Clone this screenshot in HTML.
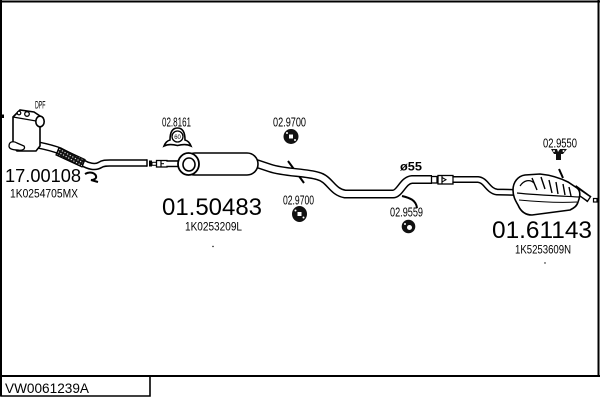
<!DOCTYPE html>
<html><head><meta charset="utf-8">
<style>
html,body{margin:0;padding:0;background:#fff;}
svg{display:block;}
text{font-family:"Liberation Sans",Arial,sans-serif;fill:#000;}
</style></head><body>
<svg width="600" height="400" viewBox="0 0 600 400" xmlns="http://www.w3.org/2000/svg">
<defs>
<pattern id="hatch" width="3" height="3" patternUnits="userSpaceOnUse" patternTransform="rotate(30)">
<rect width="3" height="3" fill="#111"/>
<rect x="0" y="0" width="1.1" height="1.1" fill="#fff"/>
</pattern>
</defs>

<!-- frame -->
<path d="M1,0 V396 M0,1.5 H600 M598.5,0 V377 M0,376 H600" stroke="#000" stroke-width="2" fill="none"/>
<path d="M1,376 V396 H150 V376" stroke="#000" stroke-width="1.6" fill="none"/>
<text x="5" y="393" font-size="14" textLength="84" lengthAdjust="spacingAndGlyphs">VW0061239A</text>

<!-- hanger rods (drawn under pipes) -->
<line x1="288" y1="161" x2="304" y2="183" stroke="#000" stroke-width="2"/>
<path d="M402,196 C410,198 416,200 417,208" stroke="#000" stroke-width="2" fill="none"/>
<line x1="559" y1="169" x2="563" y2="178" stroke="#000" stroke-width="2"/>

<!-- front pipe -->
<g fill="none">
<path d="M38,145 C48,147 55,149 60,151 L83,163 C88,166 95,168 100,165 C103,163 106,163 110,163 L147,163" stroke="#000" stroke-width="7.5"/>
<path d="M38,145 C48,147 55,149 60,151 L83,163 C88,166 95,168 100,165 C103,163 106,163 110,163 L147,163" stroke="#fff" stroke-width="4.5"/>
</g>
<line x1="147" y1="159.3" x2="147" y2="166.7" stroke="#000" stroke-width="1.5"/>
<!-- flex -->
<polygon points="59,147.5 85,159.5 82,167 56,155" fill="url(#hatch)" stroke="#000" stroke-width="1.2"/>

<!-- DPF -->
<path d="M13,117 L20,110 L34,112 L43,118 L40,122 L40,146 L36,151 L17,151 L13,147 Z" fill="#fff" stroke="#000" stroke-width="1.6"/>
<path d="M13,117 L36,121 L43,118" fill="none" stroke="#000" stroke-width="1.3"/>
<ellipse cx="40" cy="121.5" rx="4.2" ry="5.3" fill="#fff" stroke="#000" stroke-width="1.6"/>
<circle cx="27" cy="114" r="2.3" fill="#fff" stroke="#000" stroke-width="1.3"/>
<circle cx="19" cy="113" r="1.8" fill="#fff" stroke="#000" stroke-width="1.2"/>
<path d="M9,146 C9,141 14,141 17,143 L24,146 C26,149 22,151 18,150 C13,150 9,149 9,146 Z" fill="#fff" stroke="#000" stroke-width="1.3"/>
<rect x="1" y="114.5" width="3" height="3.5" fill="#000"/>
<text x="35" y="108.5" font-size="11" textLength="10.5" lengthAdjust="spacingAndGlyphs">DPF</text>

<!-- hook near 17.00108 -->
<path d="M85,174 C90,171 95,173 96,176 C97,179 93,180 91,180 L98,182" stroke="#000" stroke-width="2" fill="none"/>

<text x="5" y="182" font-size="18" textLength="76" lengthAdjust="spacingAndGlyphs">17.00108</text>
<text x="10" y="197.5" font-size="12" textLength="68" lengthAdjust="spacingAndGlyphs">1K0254705MX</text>

<!-- connector -->
<rect x="149" y="160.5" width="3" height="6" fill="#000"/>
<rect x="152" y="162.3" width="4.5" height="3" fill="#fff" stroke="#000" stroke-width="1"/>
<rect x="156.5" y="160.5" width="10.5" height="6.5" fill="#fff" stroke="#000" stroke-width="1.3"/>
<line x1="161" y1="161" x2="161" y2="166.5" stroke="#000" stroke-width="1.2"/>
<line x1="161" y1="163.7" x2="164" y2="163.7" stroke="#000" stroke-width="1"/>
<g fill="none">
<path d="M167,163.7 L182,163.7" stroke="#000" stroke-width="7"/>
<path d="M166,163.7 L183,163.7" stroke="#fff" stroke-width="4"/>
</g>

<!-- middle pipe -->
<g fill="none">
<path d="M255,163 L270,168 C285,173 305,172 318,176 C330,179 332,192 345,194 L393,194 C400,194 403,180 412,179.5 L432,179.5" stroke="#000" stroke-width="9"/>
<path d="M255,163 L270,168 C285,173 305,172 318,176 C330,179 332,192 345,194 L393,194 C400,194 403,180 412,179.5 L432,179.5" stroke="#fff" stroke-width="6"/>
</g>

<!-- middle muffler -->
<rect x="184" y="153" width="74" height="22" rx="11" fill="#fff" stroke="#000" stroke-width="1.6"/>
<ellipse cx="188.5" cy="164" rx="10.5" ry="11" fill="#fff" stroke="#000" stroke-width="1.8"/>
<ellipse cx="189" cy="164.5" rx="6" ry="6.5" fill="#fff" stroke="#000" stroke-width="1.6"/>

<!-- joint -->
<rect x="431.5" y="176.5" width="5.5" height="6.5" fill="#fff" stroke="#000" stroke-width="1.3"/>
<rect x="438" y="175.5" width="15" height="8.5" fill="#fff" stroke="#000" stroke-width="1.3"/>
<line x1="442" y1="176" x2="442" y2="183.5" stroke="#000" stroke-width="1.2"/>
<path d="M442,177.5 L446,179.7 L442,182" stroke="#000" stroke-width="1" fill="none"/>

<!-- rear pipe -->
<g fill="none">
<path d="M453,179.5 L478,179.5 C486,180 488,191 497,192 L520,192.5" stroke="#000" stroke-width="7"/>
<path d="M452,179.5 L478,179.5 C486,180 488,191 497,192 L520,192.5" stroke="#fff" stroke-width="4"/>
</g>
<line x1="453" y1="176" x2="453" y2="183" stroke="#000" stroke-width="1.2"/>

<!-- tailpipe -->
<g fill="none">
<path d="M574,188 L589,199" stroke="#000" stroke-width="7"/>
<path d="M573,188 L589,199" stroke="#fff" stroke-width="4"/>
</g>
<line x1="587" y1="202" x2="591" y2="196" stroke="#000" stroke-width="1.3"/>
<rect x="593.5" y="198.5" width="3.5" height="3.5" fill="#fff" stroke="#000" stroke-width="1.2"/>

<!-- rear muffler -->
<path d="M513,190 C513,182 518,176 525,175 L540,174 C550,175 560,178 568,182 L577,188 C581,191 580,197 578,202 C577,206 574,208 570,210 L532,215 C526,215 521,212 518,205 C515,200 513,196 513,190 Z" fill="#fff" stroke="#000" stroke-width="1.6"/>
<path d="M517,193 C535,195 560,196 579,197" fill="none" stroke="#000" stroke-width="1.2"/>
<path d="M519,200 C540,202 560,203 577,202" fill="none" stroke="#000" stroke-width="1"/>
<path d="M520,186 C524,180 530,179 534,183" fill="none" stroke="#000" stroke-width="1.2"/>
<g stroke="#000" stroke-width="1.4" fill="none">
<path d="M532,178 L537,190"/>
<path d="M541,177 L545,189"/>
<path d="M549,180 L552,193"/>
<path d="M556,182 L558,194"/>
<path d="M563,184 L565,195"/>
<path d="M569,187 L571,196"/>
</g>

<!-- icons -->
<!-- clamp 02.8161 -->
<path d="M164,146 Q166,141 170,140 Q170,128 177.5,128 Q185,128 185,140 Q189,141 191,146 Q186,143.5 177.5,145.5 Q169,143.5 164,146 Z" fill="#fff" stroke="#000" stroke-width="1.6"/>
<circle cx="177.5" cy="136.5" r="5.5" fill="#fff" stroke="#000" stroke-width="1.3"/>
<text x="174.2" y="138.8" font-size="6" textLength="6.6" lengthAdjust="spacingAndGlyphs">60</text>
<text x="162" y="126.5" font-size="12.5" textLength="29" lengthAdjust="spacingAndGlyphs">02.8161</text>

<!-- rubber rings 02.9700 -->
<ellipse cx="291" cy="136.5" rx="7.5" ry="7.5" fill="#111"/>
<rect x="289" y="134.5" width="4" height="4" fill="#fff"/>
<circle cx="287" cy="133" r="1" fill="#fff"/>
<circle cx="295" cy="140" r="1" fill="#fff"/>
<text x="273" y="126.5" font-size="12.5" textLength="33" lengthAdjust="spacingAndGlyphs">02.9700</text>

<ellipse cx="299.5" cy="214" rx="7.5" ry="8" fill="#111"/>
<rect x="297.5" y="212" width="4" height="4" fill="#fff"/>
<circle cx="295.5" cy="210.5" r="1" fill="#fff"/>
<circle cx="303.5" cy="217.5" r="1" fill="#fff"/>
<text x="283" y="204.5" font-size="12.5" textLength="31" lengthAdjust="spacingAndGlyphs">02.9700</text>

<!-- 02.9559 ring -->
<circle cx="408.5" cy="226.5" r="6.8" fill="#111"/>
<circle cx="409.5" cy="227.5" r="2.5" fill="#fff"/>
<circle cx="405" cy="224" r="1" fill="#fff"/>
<text x="390" y="216.5" font-size="12.5" textLength="33" lengthAdjust="spacingAndGlyphs">02.9559</text>

<!-- 02.9550 hanger -->
<path d="M551,149 L557,149 L558,152 L560,149 L567,149 L563,154 L561,154 L561,160 L556,160 L556,154 L554,154 Z" fill="#111"/>
<circle cx="554" cy="151" r="1" fill="#fff"/>
<circle cx="563.5" cy="151" r="1" fill="#fff"/>
<text x="543" y="147.5" font-size="12.5" textLength="34" lengthAdjust="spacingAndGlyphs">02.9550</text>

<text x="400" y="170.5" font-size="12" font-weight="bold" textLength="22" lengthAdjust="spacingAndGlyphs">ø55</text>

<!-- part numbers -->
<text x="162" y="215" font-size="24" textLength="100" lengthAdjust="spacingAndGlyphs">01.50483</text>
<text x="185" y="230.5" font-size="12" textLength="57" lengthAdjust="spacingAndGlyphs">1K0253209L</text>
<text x="492" y="238" font-size="24" textLength="100" lengthAdjust="spacingAndGlyphs">01.61143</text>
<text x="515" y="253.5" font-size="12" textLength="56" lengthAdjust="spacingAndGlyphs">1K5253609N</text>

<circle cx="213" cy="246.5" r="0.7" fill="#000"/>
<circle cx="545" cy="263" r="0.7" fill="#000"/>
</svg>
</body></html>
